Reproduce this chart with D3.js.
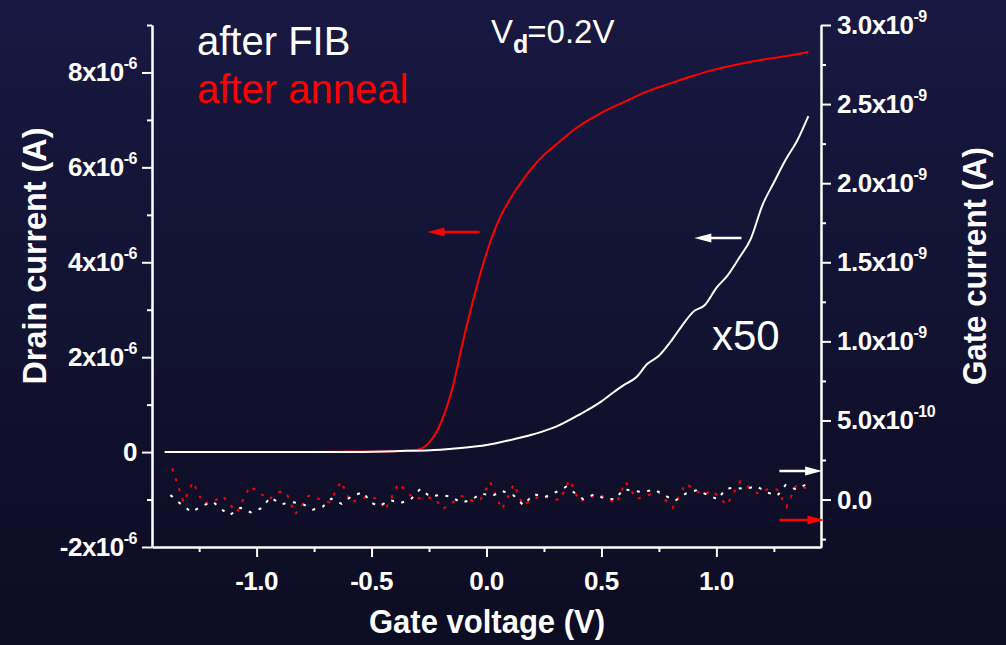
<!DOCTYPE html>
<html>
<head>
<meta charset="utf-8">
<script src="https://cdn.jsdelivr.net/npm/d3@7"></script>
<style>
html, body { margin: 0; padding: 0; background: #121236; }
svg { display: block; font-family: "Liberation Sans", Arial, sans-serif; }
</style>
</head>
<body>
<svg id="chart" width="1006" height="645"></svg>
<script>
// ---- data (drain current in 1e-6 A, gate current in 1e-9 A, voltage in V) ----
const xMajor = [-1.0, -0.5, 0.0, 0.5, 1.0];
const xMinor = [-1.25, -0.75, -0.25, 0.25, 0.75, 1.25];
const drainMajor = [-2, 0, 2, 4, 6, 8];
const drainMinor = [-1, 1, 3, 5, 7, 9];
const gateMajor = [0, 0.5, 1.0, 1.5, 2.0, 2.5, 3.0];
const gateMinor = [-0.25, 0.25, 0.75, 1.25, 1.75, 2.25, 2.75];

// after anneal, drain current
const annealV = [-1.40, -1.20, -1.00, -0.80, -0.60, -0.40, -0.35, -0.30, -0.25, -0.20, -0.15, -0.10, -0.05,
  0.00, 0.05, 0.10, 0.15, 0.20, 0.25, 0.30, 0.40, 0.50, 0.60, 0.70, 0.80, 0.90, 1.00, 1.10, 1.20, 1.30, 1.40];
const annealId = [0, 0, 0, 0, 0.01, 0.02, 0.03, 0.05, 0.2, 0.6, 1.32, 2.38, 3.35,
  4.19, 4.85, 5.31, 5.68, 6.0, 6.26, 6.47, 6.86, 7.15, 7.38, 7.6, 7.77, 7.93, 8.07, 8.18, 8.27, 8.34, 8.43];

// after FIB, drain current x50
const fibV = [-1.40, -1.00, -0.60, -0.40, -0.20, -0.10, 0.00, 0.10, 0.20, 0.30, 0.40, 0.50, 0.55, 0.60, 0.65,
  0.70, 0.75, 0.80, 0.85, 0.90, 0.95, 1.00, 1.05, 1.10, 1.15, 1.20, 1.25, 1.30, 1.35, 1.40];
const fibId = [0, 0, 0, 0.02, 0.05, 0.09, 0.15, 0.25, 0.37, 0.53, 0.78, 1.07, 1.25, 1.42, 1.57,
  1.86, 2.03, 2.32, 2.66, 2.96, 3.10, 3.46, 3.73, 4.10, 4.50, 5.20, 5.68, 6.15, 6.55, 7.08];

// gate current, after anneal
const annealGateV = [-1.367, -1.318, -1.277, -1.233, -1.190, -1.147, -1.086, -1.029, -0.947, -0.900, -0.871,
  -0.832, -0.774, -0.683, -0.633, -0.591, -0.512, -0.471, -0.440, -0.383, -0.314, -0.267, -0.225, -0.190,
  -0.107, -0.062, -0.026, 0.015, 0.067, 0.119, 0.158, 0.232, 0.319, 0.361, 0.404, 0.490, 0.565, 0.604,
  0.653, 0.745, 0.810, 0.867, 0.939, 0.984, 1.045, 1.103, 1.180, 1.225, 1.264, 1.305, 1.348, 1.404];
const annealGateI = [0.197, -0.018, 0.111, -0.024, -0.014, 0.022, -0.081, 0.085, 0.001, 0.049, 0.043,
  -0.092, 0.024, -0.018, 0.115, -0.018, 0.022, 0.001, -0.066, 0.102, 0.003, 0.016, 0.008, -0.060,
  0.022, -0.009, 0.001, 0.113, -0.062, 0.098, -0.035, 0.022, -0.003, 0.125, -0.011, 0.033, -0.024, 0.113,
  0.003, 0.049, -0.052, 0.102, 0.030, 0.056, -0.035, 0.115, 0.039, 0.066, 0.064, -0.046, 0.092, 0.066];

// gate current, after FIB
const fibGateV = [-1.375, -1.330, -1.283, -1.236, -1.190, -1.153, -1.117, -1.071, -1.025, -0.978, -0.940,
  -0.893, -0.847, -0.801, -0.755, -0.713, -0.675, -0.630, -0.584, -0.536, -0.503, -0.465, -0.420, -0.374,
  -0.329, -0.288, -0.245, -0.201, -0.153, -0.110, -0.065, -0.022, 0.023, 0.068, 0.116, 0.160, 0.206,
  0.252, 0.300, 0.347, 0.386, 0.420, 0.470, 0.516, 0.560, 0.596, 0.635, 0.681, 0.729, 0.775, 0.820,
  0.868, 0.916, 0.961, 1.007, 1.040, 1.080, 1.126, 1.173, 1.219, 1.265, 1.301, 1.346, 1.394];
const fibGateI = [0.028, -0.028, -0.079, -0.039, -0.014, -0.062, -0.098, -0.052, -0.081, -0.054, 0.014,
  -0.030, -0.016, -0.027, -0.064, -0.046, 0.005, -0.027, 0.024, 0.046, -0.020, -0.041, -0.003, -0.022,
  0.001, 0.068, 0.018, 0.030, 0.018, -0.020, -0.001, 0.039, 0.022, 0.054, 0.028, -0.035, 0.035,
  0.014, 0.046, 0.081, 0.039, 0.003, 0.033, 0.005, 0.001, 0.066, 0.056, 0.047, 0.064, 0.027, -0.008,
  0.039, 0.060, 0.030, 0.001, 0.068, 0.075, 0.066, 0.085, 0.046, 0.024, 0.092, 0.064, 0.098];

// arrows telling which axis each curve belongs to
const arrowFrom = [-0.03, 1.109, 1.274, 1.274];
const arrowTo = [-0.257, 0.904, 1.46, 1.47];
const arrowLevel = [4.64, 4.51, 0.18, -0.13];
const arrowAxis = ["drain", "drain", "gate", "gate"];
const arrowColor = ["#ff0000", "#ffffff", "#ffffff", "#ff0000"];

// ---- layout ----
const pLeft = 152, pRight = 821, pTop = 25, pBottom = 547;
const svg = d3.select("#chart");

const defs = svg.append("defs");
const grad = defs.append("linearGradient").attr("id", "bg")
  .attr("x1", 0).attr("y1", 0).attr("x2", 0).attr("y2", 1);
grad.append("stop").attr("offset", "0%").attr("stop-color", "#181842");
grad.append("stop").attr("offset", "100%").attr("stop-color", "#0c0c22");
svg.append("rect").attr("width", 1006).attr("height", 645).attr("fill", "url(#bg)");

const x = d3.scaleLinear().domain([-1.455, 1.455]).range([pLeft, pRight]);
const yL = d3.scaleLinear().domain([-2, 9]).range([pBottom, pTop]);
const yR = d3.scaleLinear().domain([-0.3, 3.0]).range([pBottom, pTop]);

function styleAxis(g) {
  g.selectAll("path, line").attr("stroke", "#fff").attr("stroke-width", 2);
  g.selectAll("text").remove();
}

// minor + major ticks
const axes = svg.append("g");
axes.append("g").attr("transform", `translate(${pLeft},0)`)
  .call(d3.axisLeft(yL).tickValues(drainMinor).tickSize(5).tickSizeOuter(0)).call(styleAxis);
axes.append("g").attr("transform", `translate(${pLeft},0)`)
  .call(d3.axisLeft(yL).tickValues(drainMajor).tickSize(10).tickSizeOuter(0)).call(styleAxis);
axes.append("g").attr("transform", `translate(${pRight},0)`)
  .call(d3.axisRight(yR).tickValues(gateMinor).tickSize(5).tickSizeOuter(0)).call(styleAxis);
axes.append("g").attr("transform", `translate(${pRight},0)`)
  .call(d3.axisRight(yR).tickValues(gateMajor).tickSize(10).tickSizeOuter(0)).call(styleAxis);
axes.append("g").attr("transform", `translate(0,${pBottom})`)
  .call(d3.axisBottom(x).tickValues(xMinor).tickSize(5).tickSizeOuter(0)).call(styleAxis);
axes.append("g").attr("transform", `translate(0,${pBottom})`)
  .call(d3.axisBottom(x).tickValues(xMajor).tickSize(10).tickSizeOuter(0)).call(styleAxis);

// tick labels with superscripts
function sci(sel, base, exp) {
  sel.append("tspan").text(base);
  if (exp) sel.append("tspan").attr("font-size", 16).attr("dy", -12).text(exp);
}
const lab = svg.append("g").attr("fill", "#fff").attr("font-weight", "bold")
  .attr("font-size", 26).attr("letter-spacing", -0.5);

drainMajor.forEach(v => {
  const t = lab.append("text").attr("x", pLeft - 15).attr("y", yL(v) + 9).attr("text-anchor", "end");
  if (v === 0) sci(t, "0"); else sci(t, `${v}x10`, "-6");
});
gateMajor.forEach(v => {
  const t = lab.append("text").attr("x", pRight + 16).attr("y", yR(v) + 9).attr("text-anchor", "start");
  if (v === 0) sci(t, "0.0");
  else if (v === 0.5) sci(t, "5.0x10", "-10");
  else sci(t, `${v.toFixed(1)}x10`, "-9");
});
xMajor.forEach(v => {
  lab.append("text").attr("x", x(v)).attr("y", 590).attr("text-anchor", "middle").text(v.toFixed(1));
});

// axis titles
const titles = svg.append("g").attr("fill", "#fff").attr("font-weight", "bold").attr("font-size", 33);
titles.append("text").attr("text-anchor", "middle")
  .attr("transform", "translate(46,256) rotate(-90)")
  .attr("textLength", 257).attr("lengthAdjust", "spacingAndGlyphs").text("Drain current (A)");
titles.append("text").attr("text-anchor", "middle")
  .attr("transform", "translate(986,266) rotate(-90)")
  .attr("textLength", 238).attr("lengthAdjust", "spacingAndGlyphs").text("Gate current (A)");
titles.append("text").attr("text-anchor", "middle")
  .attr("x", 487).attr("y", 633)
  .attr("textLength", 236).attr("lengthAdjust", "spacingAndGlyphs").text("Gate voltage (V)");

// curves
const plot = svg.append("g");
const drainLine = d3.line().curve(d3.curveMonotoneX).x(d => x(d[0])).y(d => yL(d[1]));
const gateLine = d3.line().x(d => x(d[0])).y(d => yR(d[1]));

plot.append("path").datum(d3.zip(annealV, annealId)).attr("d", drainLine)
  .attr("fill", "none").attr("stroke", "#ff0000").attr("stroke-width", 2);
plot.append("path").datum(d3.zip(fibV, fibId)).attr("d", drainLine)
  .attr("fill", "none").attr("stroke", "#ffffff").attr("stroke-width", 2);
plot.append("path").datum(d3.zip(annealGateV, annealGateI)).attr("d", gateLine)
  .attr("fill", "none").attr("stroke", "#ff0000").attr("stroke-width", 2).attr("stroke-dasharray", "3,7.5");
plot.append("path").datum(d3.zip(fibGateV, fibGateI)).attr("d", gateLine)
  .attr("fill", "none").attr("stroke", "#ffffff").attr("stroke-width", 2).attr("stroke-dasharray", "3,7.5");

// arrows
arrowFrom.forEach((f, i) => {
  const y = arrowAxis[i] === "drain" ? yL(arrowLevel[i]) : yR(arrowLevel[i]);
  const x1 = x(f), x2 = x(arrowTo[i]);
  const dir = Math.sign(x2 - x1), head = 17, hw = 4.5;
  plot.append("line").attr("x1", x1).attr("x2", x2 - dir * head * 0.6).attr("y1", y).attr("y2", y)
    .attr("stroke", arrowColor[i]).attr("stroke-width", 2.5);
  plot.append("polygon")
    .attr("points", `${x2},${y} ${x2 - dir * head},${y - hw} ${x2 - dir * head},${y + hw}`)
    .attr("fill", arrowColor[i]);
});

// annotations
const note = svg.append("g").attr("font-size", 40);
note.append("text").attr("x", 197).attr("y", 55).attr("fill", "#fff").text("after FIB");
note.append("text").attr("x", 197).attr("y", 103).attr("fill", "#ff0000").text("after anneal");
note.append("text").attr("x", 712).attr("y", 350).attr("fill", "#fff").attr("font-size", 42).text("x50");
const vd = note.append("text").attr("x", 491).attr("y", 43).attr("fill", "#fff").attr("font-size", 33);
vd.append("tspan").text("V");
vd.append("tspan").attr("font-size", 25).attr("font-weight", "bold").attr("dy", 10).text("d");
vd.append("tspan").attr("dy", -10).attr("dx", -1).text("=0.2V");
</script>
</body>
</html>
